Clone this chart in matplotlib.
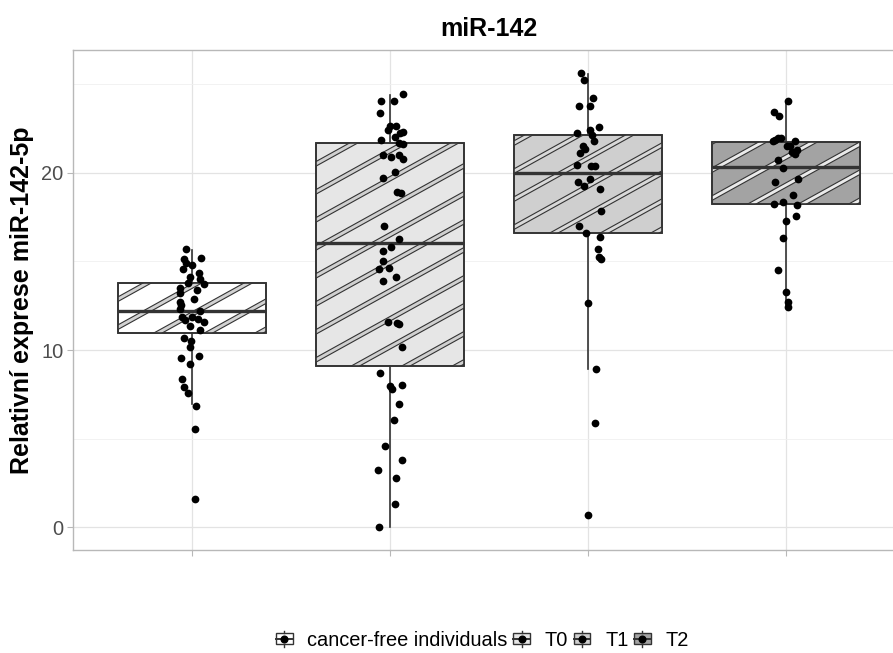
import numpy as np
import matplotlib
matplotlib.use("Agg")
import matplotlib.pyplot as plt
from matplotlib.patches import Rectangle, Polygon
from matplotlib.lines import Line2D
from matplotlib.legend_handler import HandlerBase

plt.rcParams['font.family'] = ['Liberation Sans', 'DejaVu Sans']

# ---- data ----
groups = ['cancer-free individuals', 'T0', 'T1', 'T2']
box_fill = ['#FFFFFF', '#E6E6E6', '#CFCFCF', '#A3A3A3']
stripe_fill = ['#D2D2D2', '#D0D0D0', '#D9D9D9', '#EAEAEA']

# box statistics (whisker low, q1, median, q3, whisker high)
whislo = [6.95, 0.02, 8.95, 12.45]
q1 = [10.94, 9.10, 16.59, 18.23]
med = [12.20, 16.05, 19.98, 20.32]
q3 = [13.78, 21.67, 22.15, 21.73]
whishi = [15.65, 24.40, 25.59, 24.08]

cf_vals = [15.69, 15.18, 15.12, 14.90, 14.80, 14.60, 14.37, 14.14, 13.99, 13.77,
           13.73, 13.49, 13.39, 13.20, 12.86, 12.73, 12.54, 12.30, 12.20, 11.85,
           11.85, 11.73, 11.60, 11.69, 11.36, 11.13, 10.66, 10.53, 10.15, 9.66,
           9.53, 9.24, 8.34, 7.93, 7.55, 6.85, 5.52, 1.62]
cf_jit = [-0.03, 0.045, -0.04, -0.03, 0.0, -0.045, 0.035, -0.01, 0.04, -0.02,
          0.06, -0.06, 0.025, -0.06, 0.01, -0.06, -0.055, -0.06, 0.04, -0.05,
          0.0, 0.03, 0.06, -0.035, -0.01, 0.04, -0.04, -0.005, -0.01, 0.035,
          -0.055, -0.01, -0.05, -0.04, -0.02, 0.02, 0.015, 0.015]

t0_vals = [24.46, 24.08, 24.05, 23.37, 22.62, 22.66, 22.43, 22.33, 22.24, 22.02,
           21.83, 21.71, 21.64, 21.03, 20.92, 21.00, 20.77, 20.02, 19.73, 18.93,
           18.85, 17.02, 16.27, 15.84, 15.58, 15.03, 14.65, 14.56, 14.14, 13.88,
           11.58, 11.51, 11.47, 10.19, 8.68, 8.00, 7.78, 8.02, 6.93, 6.05,
           4.58, 3.82, 3.26, 2.79, 1.30, 0.00]
t0_jit = [0.065, -0.045, 0.02, -0.05, 0.0, 0.03, -0.01, 0.065, 0.05, 0.025,
          -0.045, 0.045, 0.065, -0.035, 0.005, 0.045, 0.065, 0.025, -0.035, 0.035,
          0.055, -0.03, 0.045, 0.005, -0.035, -0.035, -0.005, -0.055, 0.03, -0.035,
          -0.01, 0.035, 0.045, 0.06, -0.05, 0.0, 0.01, 0.06, 0.045, 0.02,
          -0.025, 0.06, -0.06, 0.03, 0.025, -0.055]

t1_vals = [25.63, 25.22, 24.22, 23.79, 23.75, 22.58, 22.24, 22.39, 22.15, 21.77,
           21.49, 21.34, 21.11, 20.43, 20.40, 20.36, 19.51, 19.64, 19.27, 19.08,
           17.87, 17.02, 16.59, 16.40, 15.69, 15.27, 15.12, 12.67, 8.91, 5.86, 0.68]
t1_jit = [-0.035, -0.02, 0.025, -0.045, 0.01, 0.055, -0.055, 0.01, 0.02, 0.03,
          -0.025, -0.015, -0.04, -0.055, 0.015, 0.035, -0.05, 0.01, -0.02, 0.06,
          0.065, -0.045, -0.01, 0.06, 0.05, 0.055, 0.065, 0.0, 0.04, 0.035, 0.0]

t2_vals = [24.03, 23.43, 23.18, 21.86, 21.94, 21.96, 21.77, 21.77, 21.49, 21.53,
           21.26, 21.15, 21.07, 20.70, 20.27, 19.68, 19.51, 18.74, 18.25, 18.36,
           18.19, 17.57, 17.31, 16.31, 14.52, 13.28, 12.73, 12.41]
t2_jit = [0.01, -0.06, -0.035, -0.055, -0.04, -0.025, -0.065, 0.045, 0.005, 0.02,
          0.055, 0.03, 0.045, -0.04, -0.015, 0.06, -0.055, 0.035, -0.06, -0.015,
          0.055, 0.05, 0.0, -0.015, -0.04, 0.0, 0.01, 0.01]

values = [cf_vals, t0_vals, t1_vals, t2_vals]
jitter = [cf_jit, t0_jit, t1_jit, t2_jit]

# ---- figure ----
W, H = 893, 653
fig = plt.figure(figsize=(W / 100, H / 100), dpi=100)
ax = fig.add_axes([73 / W, (H - 550) / H, 832 / W, 500 / H])
ax.set_xlim(0.4, 4.6)
ax.set_ylim(-1.28, 26.93)

pos = np.arange(1, len(groups) + 1)
stats = [dict(whislo=whislo[i], q1=q1[i], med=med[i], q3=q3[i], whishi=whishi[i], fliers=[])
         for i in range(len(groups))]
bp = ax.bxp(stats, positions=pos, widths=0.75, patch_artist=True, showcaps=False,
            showfliers=False,
            boxprops=dict(edgecolor='#333333', linewidth=1.2),
            whiskerprops=dict(color='#333333', linewidth=1.2),
            medianprops=dict(color='#333333', linewidth=2.4))
for b, c in zip(bp['boxes'], box_fill):
    b.set_facecolor(c)
    b.set_zorder(2)
for m in bp['medians']:
    m.set_zorder(4)

# diagonal stripe pattern, built in pixel space and clipped to each box
ang = np.tan(np.radians(29))
gap_px = 28.0   # vertical distance between stripes
half_px = 2.3   # half band height
inv = ax.transData.inverted()
for i, b in enumerate(bp['boxes']):
    (x0, y0), (x1, y1) = ax.transData.transform([(pos[i] - 0.375, q1[i]), (pos[i] + 0.375, q3[i])])
    span = (x1 - x0) * ang
    k = np.arange(-int(span / gap_px) - 2, int((y1 - y0) / gap_px) + 2)
    for kk in k:
        yb = y0 + 6 + kk * gap_px
        pts = np.array([(x0 - 5, yb - half_px - 5 * ang), (x1 + 5, yb - half_px + (x1 - x0 + 5) * ang),
                        (x1 + 5, yb + half_px + (x1 - x0 + 5) * ang), (x0 - 5, yb + half_px - 5 * ang)])
        poly = Polygon(inv.transform(pts), closed=True, facecolor=stripe_fill[i],
                       edgecolor='#333333', linewidth=0.8, zorder=2.5)
        ax.add_patch(poly)
        poly.set_clip_path(b)
    ax.add_patch(Rectangle((pos[i] - 0.375, q1[i]), 0.75, q3[i] - q1[i], fill=False,
                           edgecolor='#333333', linewidth=1.2, zorder=3))

# jittered points
for i in range(len(groups)):
    ax.scatter(pos[i] + np.array(jitter[i]), values[i], s=31, color='black',
               linewidths=0, zorder=5)

# theme
ax.set_facecolor('white')
ax.set_yticks([0, 10, 20])
ax.set_yticks([5, 15, 25], minor=True)
ax.set_xticks(pos)
ax.set_xticklabels([])
ax.grid(which='major', color='#E3E3E3', linewidth=0.9, zorder=0)
ax.grid(which='minor', axis='y', color='#F0F0F0', linewidth=0.6, zorder=0)
ax.set_axisbelow(True)
for s in ax.spines.values():
    s.set_color('#B8B8B8')
    s.set_linewidth(1.0)
ax.tick_params(which='major', color='#B8B8B8', length=4, width=0.8,
               labelsize=14.4, labelcolor='#4D4D4D', pad=3)
ax.tick_params(which='minor', length=0)

ax.set_ylabel('Relativní exprese miR-142-5p', fontsize=18, fontweight='bold',
              labelpad=5, color='black')
ax.set_title('miR-142', fontsize=18, fontweight='bold', pad=10)


# legend keys that look like small boxplots
class BoxKey(HandlerBase):
    def create_artists(self, legend, orig_handle, xdescent, ydescent, width, height,
                       fontsize, trans):
        x0, y0 = -xdescent, -ydescent
        bh = height * 0.66
        by = y0 + (height - bh) / 2
        rect = Rectangle((x0 + 0.5, by), width - 1, bh, facecolor=orig_handle.get_facecolor(),
                         edgecolor='#333333', linewidth=1.0, transform=trans)
        cx = x0 + width / 2
        w1 = Line2D([cx, cx], [y0, by], color='#333333', linewidth=1.0, transform=trans)
        w2 = Line2D([cx, cx], [by + bh, y0 + height], color='#333333', linewidth=1.0, transform=trans)
        md = Line2D([x0 + 0.5, x0 + width - 0.5], [y0 + height / 2] * 2, color='#333333',
                    linewidth=1.4, transform=trans)
        dot = Line2D([cx], [y0 + height / 2], marker='o', markersize=4.8, color='black',
                     linestyle='none', transform=trans)
        return [rect, w1, w2, md, dot]


handles = [Rectangle((0, 0), 1, 1, facecolor=c) for c in box_fill]
fig.legend(handles, groups, handler_map={Rectangle: BoxKey()}, loc='center',
           bbox_to_anchor=(482 / W, 1 - 640 / H), ncol=4, frameon=False, fontsize=14.4,
           handlelength=0.9, handleheight=0.85, handletextpad=0.7, columnspacing=0.25)

fig.savefig('out.png', dpi=100)
